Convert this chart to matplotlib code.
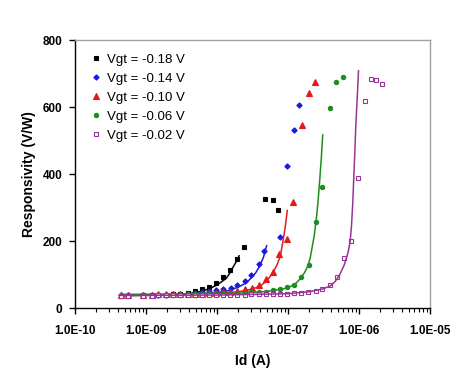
import matplotlib
matplotlib.use("Agg")
import matplotlib.pyplot as plt
from matplotlib.ticker import LogLocator, NullFormatter, FixedLocator

plt.rcParams['font.family'] = ['Liberation Sans', 'DejaVu Sans']

labels = ["Vgt = -0.18 V", "Vgt = -0.14 V", "Vgt = -0.10 V", "Vgt = -0.06 V", "Vgt = -0.02 V"]
colors = ["#000000", "#1a1adc", "#e41a1a", "#1e8c1e", "#993399"]

low_id = [4.4e-10, 5.6e-10, 9.0e-10, 1.2e-9, 1.5e-9, 1.9e-9, 2.4e-9, 3.0e-9, 3.9e-9, 4.9e-9]

# measured points
id_m18 = low_id + [6.1e-9, 7.7e-9, 9.6e-9, 1.22e-8, 1.53e-8, 1.94e-8, 2.38e-8, 4.8e-8, 6.1e-8, 7.2e-8]
r_m18 = [38, 38, 39, 40, 40, 41, 42, 44, 47, 51, 58, 64, 76, 93, 115, 148, 184, 326, 324, 294]

id_m14 = low_id + [6.1e-9, 7.7e-9, 9.6e-9, 1.22e-8, 1.55e-8, 1.92e-8, 2.46e-8, 3.06e-8, 3.88e-8, 4.52e-8, 7.78e-8, 9.77e-8, 1.23e-7, 1.43e-7]
r_m14 = [40, 40, 40, 41, 41, 41, 42, 43, 44, 45, 48, 51, 54, 57, 62, 69, 83, 101, 132, 170, 212, 425, 533, 605]

id_m10 = low_id + [6.1e-9, 7.7e-9, 9.6e-9, 1.22e-8, 1.54e-8, 1.94e-8, 2.45e-8, 3.09e-8, 3.88e-8, 4.83e-8, 6.12e-8, 7.45e-8, 9.64e-8, 1.16e-7, 1.56e-7, 1.95e-7, 2.43e-7]
r_m10 = [41, 41, 41, 41, 42, 42, 42, 42, 43, 43, 44, 45, 46, 48, 50, 53, 57, 62, 70, 88, 109, 161, 207, 316, 548, 641, 674]

id_m06 = low_id + [6.1e-9, 7.7e-9, 9.6e-9, 1.22e-8, 1.54e-8, 1.94e-8, 2.45e-8, 3.05e-8, 3.85e-8, 4.83e-8, 6.12e-8, 7.78e-8, 9.77e-8, 1.23e-7, 1.54e-7, 1.95e-7, 2.45e-7, 3.05e-7, 3.87e-7, 4.75e-7, 5.91e-7]
r_m06 = [40, 40, 40, 40, 41, 41, 41, 41, 42, 42, 42, 43, 43, 44, 44, 45, 46, 48, 50, 50, 54, 57, 63, 71, 95, 130, 259, 361, 598, 674, 690]

id_m02 = low_id + [6.1e-9, 7.7e-9, 9.6e-9, 1.22e-8, 1.54e-8, 1.94e-8, 2.45e-8, 2.97e-8, 3.85e-8, 4.83e-8, 6.12e-8, 7.78e-8, 9.77e-8, 1.23e-7, 1.54e-7, 1.94e-7, 2.45e-7, 3.05e-7, 3.87e-7, 4.85e-7, 6.16e-7, 7.66e-7, 9.62e-7, 1.20e-6, 1.47e-6, 1.73e-6, 2.10e-6]
r_m02 = [38, 38, 38, 38, 39, 39, 39, 39, 40, 40, 40, 40, 41, 41, 41, 41, 41, 42, 42, 42, 42, 44, 44, 45, 46, 49, 52, 57, 69, 95, 151, 202, 390, 619, 685, 682, 670]

# fitted curves
fit_id_m18 = [4.4e-10, 1e-9, 2e-9, 4e-9, 6e-9, 8e-9, 1e-8, 1.2e-8, 1.35e-8, 1.5e-8, 1.66e-8, 1.85e-8, 2.05e-8]
fit_r_m18 = [38, 39, 40, 44, 51, 60, 70, 82, 90, 104, 121, 138, 157]

fit_id_m14 = [4.4e-10, 2e-9, 5e-9, 1e-8, 1.5e-8, 2e-8, 2.57e-8, 3e-8, 3.5e-8, 3.98e-8, 4.5e-8, 5.0e-8]
fit_r_m14 = [40, 41, 43, 47, 54, 64, 76, 90, 106, 126, 152, 187]

fit_id_m10 = [4.4e-10, 2e-9, 5e-9, 1e-8, 2e-8, 3e-8, 4e-8, 5e-8, 6.1e-8, 7e-8, 7.8e-8, 8.4e-8, 9.1e-8, 9.77e-8]
fit_r_m10 = [42, 42, 43, 45, 50, 57, 66, 82, 106, 130, 156, 195, 240, 292]

fit_id_m06 = [4.4e-10, 5e-9, 1e-8, 3e-8, 5e-8, 8e-8, 1e-7, 1.25e-7, 1.45e-7, 1.7e-7, 1.9e-7, 2.05e-7, 2.2e-7, 2.35e-7, 2.5e-7, 2.65e-7, 2.8e-7, 2.95e-7, 3.08e-7]
fit_r_m06 = [41, 43, 44, 47, 51, 57, 62, 72, 86, 106, 126, 150, 185, 220, 265, 320, 384, 450, 517]

fit_id_m02 = [4.4e-10, 1e-8, 1e-7, 2e-7, 3.05e-7, 3.87e-7, 4.6e-7, 5.36e-7, 6.2e-7, 7.0e-7, 7.5e-7, 7.83e-7, 8.15e-7, 8.45e-7, 8.75e-7, 9.0e-7, 9.4e-7, 9.84e-7]
fit_r_m02 = [39, 40, 44, 50, 58, 66, 80, 101, 130, 166, 200, 245, 310, 393, 470, 542, 620, 708]

series = [
    (id_m18, r_m18, fit_id_m18, fit_r_m18, dict(marker='s', ms=3.4, mfc=colors[0])),
    (id_m14, r_m14, fit_id_m14, fit_r_m14, dict(marker='D', ms=2.7, mfc=colors[1])),
    (id_m10, r_m10, fit_id_m10, fit_r_m10, dict(marker='^', ms=3.8, mfc=colors[2])),
    (id_m06, r_m06, fit_id_m06, fit_r_m06, dict(marker='o', ms=3.1, mfc=colors[3])),
    (id_m02, r_m02, fit_id_m02, fit_r_m02, dict(marker='s', ms=3.3, mfc='white')),
]

fig = plt.figure(figsize=(4.74, 3.68), dpi=100)
ax = fig.add_axes([0.1582, 0.1617, 0.749, 0.7296])

for (xi, yi, fx, fy, mk), c, lab in zip(series, colors, labels):
    ax.plot(xi, yi, linestyle='none', color=c, mec=c, mew=0.8, label=lab, **mk)
    ax.plot(fx, fy, color=c, lw=1.1)

ax.set_xscale('log')
ax.set_xlim(1e-10, 1e-5)
ax.set_ylim(0, 800)
ax.set_yticks([0, 200, 400, 600, 800])
ax.xaxis.set_major_locator(FixedLocator([1e-10, 1e-9, 1e-8, 1e-7, 1e-6, 1e-5]))
ax.xaxis.set_minor_locator(LogLocator(base=10, subs=range(2, 10), numticks=20))
ax.xaxis.set_minor_formatter(NullFormatter())
ax.set_xticklabels(["1.0E-10", "1.0E-09", "1.0E-08", "1.0E-07", "1.0E-06", "1.0E-05"])

for lab in ax.get_xticklabels() + ax.get_yticklabels():
    lab.set_fontweight('bold')
    lab.set_fontsize(8.5)

ax.tick_params(axis='both', which='major', direction='out', length=4, width=1, color='black', pad=5)
ax.tick_params(axis='x', which='minor', direction='out', length=3, width=0.8, color='black')
ax.tick_params(axis='x', which='major', pad=8)

for side in ['left', 'bottom']:
    ax.spines[side].set_color('black')
    ax.spines[side].set_linewidth(1.0)
for side in ['top', 'right']:
    ax.spines[side].set_color('#a0a0a0')
    ax.spines[side].set_linewidth(1.0)

ax.set_xlabel("Id (A)", fontsize=10, fontweight='bold', labelpad=12)
ax.set_ylabel("Responsivity (V/W)", fontsize=10, fontweight='bold', labelpad=5)

leg = ax.legend(loc='upper left', bbox_to_anchor=(0.015, 0.985), frameon=False, fontsize=9.5,
                handlelength=1.0, handletextpad=0.35, labelspacing=0.52, borderaxespad=0.3)

fig.savefig("out.png", dpi=100)
